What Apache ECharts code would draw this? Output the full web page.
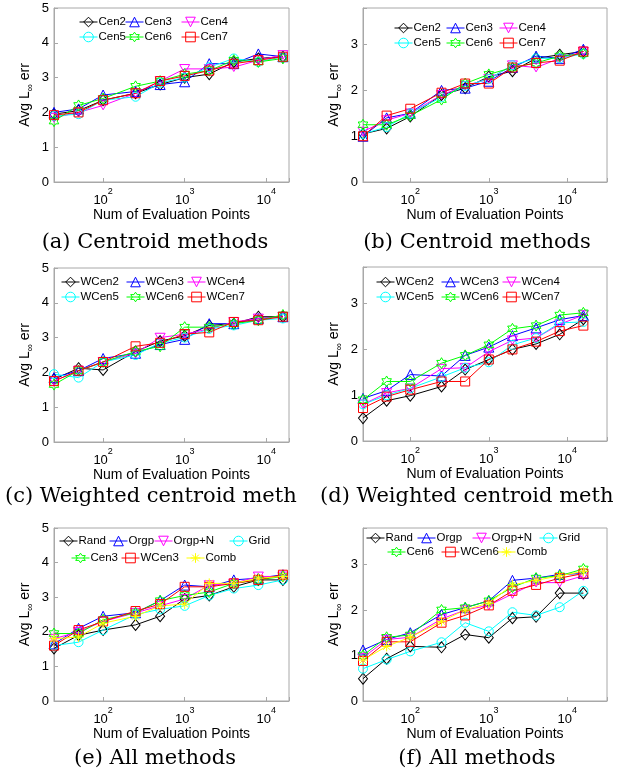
<!DOCTYPE html>
<html>
<head>
<meta charset="utf-8">
<script src="https://cdn.jsdelivr.net/npm/echarts@6/dist/echarts.min.js"></script>
<style>
  html, body { margin: 0; padding: 0; background: #fff; }
  #chart { width: 637px; height: 775px; }
</style>
</head>
<body>
<div id="chart"></div>
<script>
// number of evaluation points (x, log scale)
const evalPoints = [25, 50, 100, 250, 500, 1000, 2000, 4000, 8000, 16000];

// (a) centroid methods
const namesA = ['Cen2', 'Cen3', 'Cen4', 'Cen5', 'Cen6', 'Cen7'];
const valuesA = [
  [1.95, 2.05, 2.35, 2.55, 2.8, 3.0, 3.1, 3.45, 3.55, 3.6],
  [2.0, 2.1, 2.5, 2.6, 2.8, 2.88, 3.4, 3.4, 3.68, 3.6],
  [1.85, 2.0, 2.2, 2.55, 2.9, 3.25, 3.25, 3.3, 3.5, 3.65],
  [1.9, 1.95, 2.35, 2.45, 2.85, 3.0, 3.3, 3.55, 3.45, 3.6],
  [1.75, 2.2, 2.4, 2.75, 2.9, 3.1, 3.2, 3.5, 3.45, 3.55],
  [1.92, 2.0, 2.35, 2.55, 2.9, 3.05, 3.2, 3.4, 3.5, 3.6]
];

// (b) centroid methods
const namesB = ['Cen2', 'Cen3', 'Cen4', 'Cen5', 'Cen6', 'Cen7'];
const valuesB = [
  [1.05, 1.17, 1.43, 1.9, 2.05, 2.3, 2.42, 2.7, 2.78, 2.85],
  [1.0, 1.4, 1.5, 2.0, 2.05, 2.2, 2.5, 2.75, 2.7, 2.9],
  [1.1, 1.35, 1.5, 1.9, 2.1, 2.25, 2.55, 2.5, 2.7, 2.85],
  [1.05, 1.2, 1.5, 1.85, 2.1, 2.25, 2.55, 2.7, 2.7, 2.8],
  [1.25, 1.25, 1.45, 1.8, 2.15, 2.35, 2.5, 2.6, 2.75, 2.8],
  [1.0, 1.45, 1.6, 1.95, 2.15, 2.15, 2.5, 2.6, 2.65, 2.85]
];

// (c) weighted centroid
const namesC = ['WCen2', 'WCen3', 'WCen4', 'WCen5', 'WCen6', 'WCen7'];
const valuesC = [
  [1.8, 2.12, 2.07, 2.6, 2.9, 3.05, 3.35, 3.4, 3.6, 3.6],
  [1.85, 2.05, 2.4, 2.55, 2.8, 2.95, 3.4, 3.4, 3.55, 3.6],
  [1.75, 2.05, 2.3, 2.55, 3.0, 3.1, 3.25, 3.45, 3.55, 3.6],
  [1.95, 1.85, 2.3, 2.5, 2.85, 3.0, 3.25, 3.35, 3.5, 3.55],
  [1.65, 2.05, 2.3, 2.6, 2.75, 3.3, 3.3, 3.4, 3.5, 3.65],
  [1.75, 2.05, 2.3, 2.75, 2.85, 3.1, 3.15, 3.45, 3.5, 3.6]
];

// (d) weighted centroid
const namesD = ['WCen2', 'WCen3', 'WCen4', 'WCen5', 'WCen6', 'WCen7'];
const valuesD = [
  [0.5, 0.88, 0.99, 1.19, 1.56, 1.78, 2.0, 2.12, 2.33, 2.66],
  [0.93, 1.1, 1.45, 1.42, 1.87, 2.05, 2.3, 2.47, 2.65, 2.74],
  [0.8, 1.05, 1.15, 1.58, 1.6, 1.95, 2.2, 2.25, 2.55, 2.75],
  [0.8, 1.0, 1.15, 1.4, 1.6, 1.72, 2.1, 2.25, 2.58, 2.6],
  [0.9, 1.3, 1.3, 1.7, 1.87, 2.1, 2.45, 2.52, 2.75, 2.8],
  [0.72, 0.97, 1.12, 1.3, 1.3, 1.78, 2.0, 2.17, 2.4, 2.52]
];

// (e) all methods
const namesE = ['Rand', 'Orgp', 'Orgp+N', 'Grid', 'Cen3', 'WCen3', 'Comb'];
const valuesE = [
  [1.52, 1.9, 2.05, 2.2, 2.45, 2.95, 3.05, 3.3, 3.5, 3.5],
  [1.65, 2.1, 2.45, 2.55, 2.9, 3.35, 3.3, 3.5, 3.55, 3.65],
  [1.8, 2.0, 2.3, 2.55, 2.75, 2.95, 3.35, 3.4, 3.6, 3.6],
  [1.6, 1.7, 2.05, 2.5, 2.65, 2.75, 3.05, 3.25, 3.35, 3.5],
  [1.95, 1.95, 2.35, 2.55, 2.9, 3.05, 3.15, 3.4, 3.5, 3.6],
  [1.6, 2.05, 2.3, 2.6, 2.8, 3.3, 3.3, 3.4, 3.5, 3.65],
  [1.8, 1.85, 2.25, 2.45, 2.75, 2.8, 3.4, 3.4, 3.55, 3.6]
];

// (f) all methods
const namesF = ['Rand', 'Orgp', 'Orgp+N', 'Grid', 'Cen6', 'WCen6', 'Comb'];
const valuesF = [
  [0.49, 0.93, 1.2, 1.18, 1.46, 1.39, 1.82, 1.85, 2.37, 2.37],
  [1.12, 1.35, 1.5, 1.9, 2.05, 2.2, 2.65, 2.7, 2.78, 2.8],
  [0.95, 1.35, 1.4, 1.8, 2.0, 2.1, 2.35, 2.6, 2.6, 2.75],
  [0.71, 0.91, 1.09, 1.29, 1.72, 1.53, 1.95, 1.88, 2.06, 2.42],
  [1.0, 1.4, 1.45, 2.0, 2.05, 2.2, 2.5, 2.7, 2.75, 2.9],
  [0.88, 1.3, 1.3, 1.72, 1.88, 2.1, 2.42, 2.55, 2.7, 2.8],
  [0.9, 1.2, 1.4, 1.75, 2.0, 2.15, 2.55, 2.65, 2.75, 2.85]
];

const SANS = '"Liberation Sans", Arial, sans-serif';
const SERIF = '"DejaVu Serif", serif';
const CLEAR = 'rgba(255,255,255,0)';

// matlab-like markers
const SYM = {
  diamond: { symbol: 'diamond', size: [9, 11] },
  up: { symbol: 'triangle', size: 10 },
  down: { symbol: 'path://M0,0 L100,0 L50,87 Z', size: 10 },
  circle: { symbol: 'circle', size: 9 },
  hex: { symbol: 'path://M100,0 L71,50 L13,50 L42,100 L13,150 L71,150 L100,200 L129,150 L187,150 L158,100 L187,50 L129,50 Z', size: 11 },
  square: { symbol: 'rect', size: 9 },
  star: { symbol: 'path://M50,0 L50,100 M0,50 L100,50 M15,15 L85,85 M85,15 L15,85', size: 10 }
};

const styleCen = [
  ['#000000', 'diamond'], ['#0000ff', 'up'], ['#ff00ff', 'down'],
  ['#00ffff', 'circle'], ['#00ff00', 'hex'], ['#ff0000', 'square']
];
const styleAll = [
  ['#000000', 'diamond'], ['#0000ff', 'up'], ['#ff00ff', 'down'], ['#00ffff', 'circle'],
  ['#00ff00', 'hex'], ['#ff0000', 'square'], ['#ffff00', 'star']
];

const panels = [
  { id: 'a', names: namesA, values: valuesA, styles: styleCen,
    grid: { left: 54, top: 8, width: 235, height: 174 }, ymax: 5, xmax: 19000,
    legend: [[22, [80, 126, 182]], [37, [80, 126, 182]]],
    caption: '(a) Centroid methods', cap: [155, 243, 'center'] },
  { id: 'b', names: namesB, values: valuesB, styles: styleCen,
    grid: { left: 363, top: 8, width: 244, height: 174 }, ymax: 3.8, xmax: 32000,
    legend: [[28, [395, 447, 500]], [43, [395, 447, 500]]],
    caption: '(b) Centroid methods', cap: [477, 243, 'center'] },
  { id: 'c', names: namesC, values: valuesC, styles: styleCen,
    grid: { left: 54, top: 268, width: 235, height: 174 }, ymax: 5, xmax: 19000,
    legend: [[282, [62, 127, 188]], [297, [62, 127, 188]]],
    caption: '(c) Weighted centroid meth', cap: [5, 497, 'left'] },
  { id: 'd', names: namesD, values: valuesD, styles: styleCen,
    grid: { left: 363, top: 267, width: 244, height: 174 }, ymax: 3.8, xmax: 32000,
    legend: [[282, [377, 442, 503]], [297, [377, 442, 503]]],
    caption: '(d) Weighted centroid meth', cap: [320, 497, 'left'] },
  { id: 'e', names: namesE, values: valuesE, styles: styleAll,
    grid: { left: 54, top: 528, width: 235, height: 173 }, ymax: 5, xmax: 19000,
    legend: [[541, [60, 110, 155, 230]], [558, [72, 122, 187]]],
    caption: '(e) All methods', cap: [155, 759, 'center'] },
  { id: 'f', names: namesF, values: valuesF, styles: styleAll,
    grid: { left: 363, top: 528, width: 244, height: 173 }, ymax: 3.8, xmax: 32000,
    legend: [[538, [367, 418, 473, 540]], [552, [388, 442, 498]]],
    caption: '(f) All methods', cap: [477, 759, 'center'] }
];

const grids = [], xAxes = [], yAxes = [], series = [], legends = [], graphics = [];

panels.forEach((p, i) => {
  grids.push(Object.assign({ show: true, borderColor: '#a8a8a8', borderWidth: 1, backgroundColor: '#fff' }, p.grid));

  xAxes.push({
    type: 'log', logBase: 10, gridIndex: i, min: 25, max: p.xmax,
    axisLine: { lineStyle: { color: '#a8a8a8' } },
    axisTick: { inside: true, length: 4, lineStyle: { color: '#a8a8a8' } },
    splitLine: { show: false },
    axisLabel: {
      margin: 5, color: '#000',
      formatter: v => {
        const e = Math.log10(v);
        if (Math.abs(e - Math.round(e)) > 1e-6) return '';
        return '{b|10}{s|' + Math.round(e) + '}';
      },
      rich: {
        b: { fontSize: 13, fontFamily: SANS, color: '#000', lineHeight: 20, verticalAlign: 'bottom' },
        s: { fontSize: 9, fontFamily: SANS, color: '#000', lineHeight: 12, verticalAlign: 'top' }
      }
    },
    name: 'Num of Evaluation Points', nameLocation: 'middle', nameGap: 25,
    nameTextStyle: { fontSize: 14, fontFamily: SANS, color: '#000' }
  });

  yAxes.push({
    type: 'value', gridIndex: i, min: 0, max: p.ymax, interval: 1,
    axisLine: { show: true, lineStyle: { color: '#a8a8a8' } },
    axisTick: { show: true, inside: true, length: 4, lineStyle: { color: '#a8a8a8' } },
    splitLine: { show: false },
    axisLabel: {
      margin: 5, fontSize: 13, fontFamily: SANS, color: '#000',
      formatter: v => (Number.isInteger(v) ? String(v) : '')
    },
    name: 'Avg L{s|\u221e} err', nameLocation: 'middle', nameGap: 19,
    nameTextStyle: {
      fontSize: 14, fontFamily: SANS, color: '#000',
      rich: { s: { fontSize: 10, fontFamily: SANS, color: '#000', verticalAlign: 'bottom', lineHeight: 20 } }
    }
  });

  p.names.forEach((name, k) => {
    const [color, symKey] = p.styles[k];
    const sym = SYM[symKey];
    series.push({
      type: 'line', name: p.id + ':' + name, xAxisIndex: i, yAxisIndex: i,
      data: evalPoints.map((x, j) => [x, p.values[k][j]]),
      symbol: sym.symbol, symbolSize: sym.size, symbolKeepAspect: true, showAllSymbol: true,
      color: color,
      lineStyle: { color: color, width: 1 },
      itemStyle: { color: CLEAR, borderColor: color, borderWidth: 1 },
      emphasis: { disabled: true },
      animation: false
    });
  });

  // one legend component per entry, placed like the matlab legend
  let idx = 0;
  p.legend.forEach(([y, xs]) => {
    xs.forEach(x => {
      const k = idx++;
      const color = p.styles[k][0];
      legends.push({
        data: [p.id + ':' + p.names[k]], left: x - 1, top: y - 6, padding: 0,
        itemWidth: 18, itemHeight: 12, selectedMode: false,
        itemStyle: { color: CLEAR, borderColor: color, borderWidth: 1 },
        lineStyle: { color: color, width: 1 },
        formatter: n => n.split(':')[1],
        textStyle: { fontSize: 11.5, fontFamily: SANS, color: '#000', padding: [0, 0, 0, -4] }
      });
    });
  });

  graphics.push({
    type: 'text', x: p.cap[0], y: p.cap[1],
    style: { text: p.caption, fill: '#000', font: '21px ' + SERIF, align: p.cap[2], verticalAlign: 'middle' }
  });
});

const chart = echarts.init(document.getElementById('chart'), null, { renderer: 'canvas' });
chart.setOption({
  backgroundColor: '#fff',
  animation: false,
  grid: grids,
  xAxis: xAxes,
  yAxis: yAxes,
  legend: legends,
  series: series,
  graphic: graphics
});
</script>
</body>
</html>
